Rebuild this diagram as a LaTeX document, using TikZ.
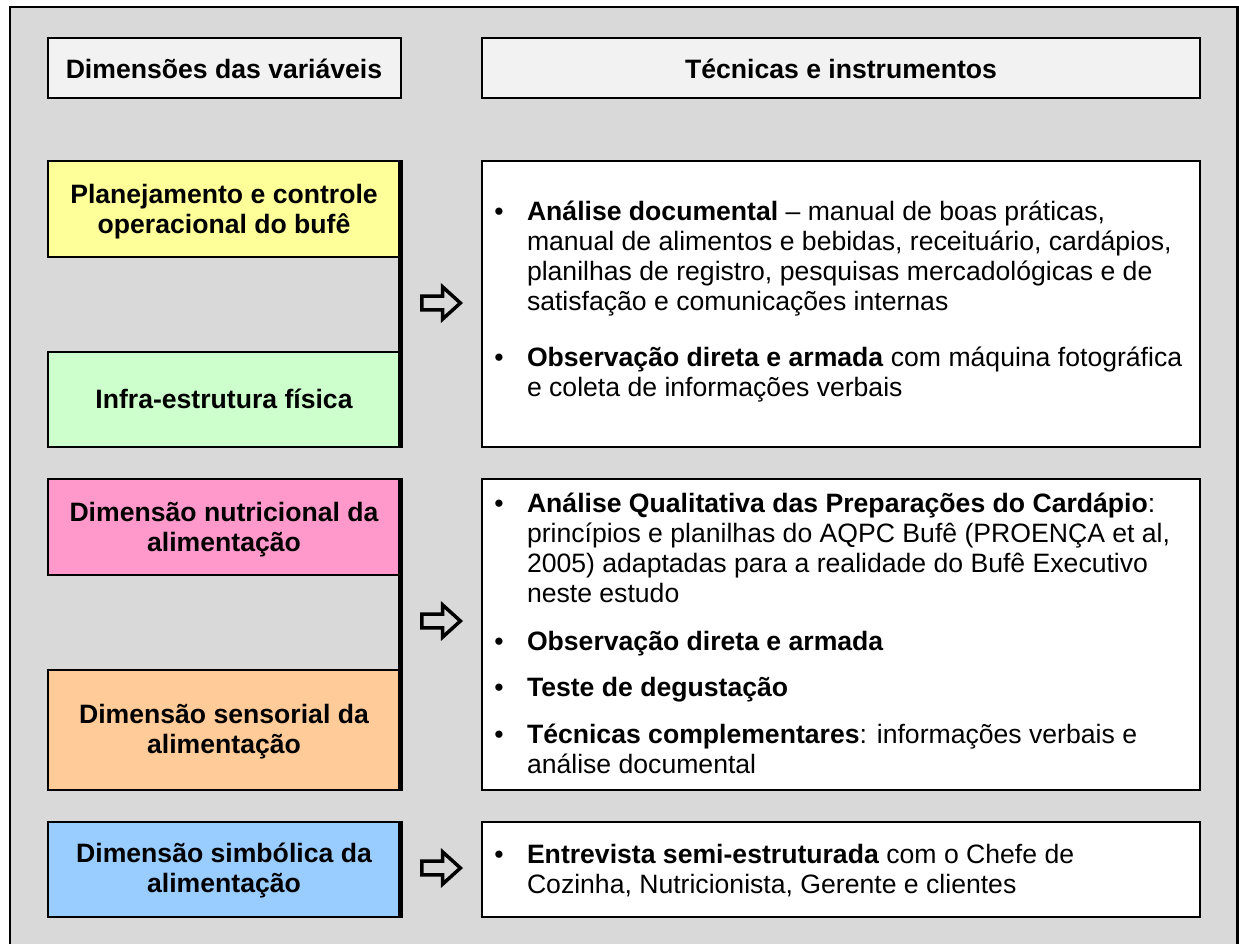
\documentclass[tikz,border=0pt]{standalone}
\usepackage{fontspec}
\setmainfont{Liberation Sans}
\definecolor{bggray}{HTML}{D9D9D9}
\definecolor{hdrgray}{HTML}{F2F2F2}
\definecolor{cyel}{HTML}{FFFF99}
\definecolor{cgreen}{HTML}{CCFFCC}
\definecolor{cpink}{HTML}{FF99CC}
\definecolor{corange}{HTML}{FFCC99}
\definecolor{cblue}{HTML}{99CCFF}
\begin{document}
\begin{tikzpicture}[x=1pt,y=-1pt,
  every node/.style={inner sep=0pt,outer sep=0pt},
  frame/.style={draw=black,line width=2.8pt,fill=bggray},
  hdrbox/.style={draw=black,line width=2pt,fill=hdrgray,anchor=north west,minimum height=60pt},
  lbox/.style={draw=black,line width=2pt,anchor=north west,minimum width=352pt},
  rbox/.style={draw=black,line width=2pt,fill=white,anchor=north west,minimum width=718pt},
  shadowline/.style={line width=4.5pt,black},
  hollow/.style={draw=black,line width=3.5pt,line join=miter},
  ctxt/.style={font=\fontsize{26.6}{30}\selectfont\bfseries,anchor=base},
  rtxt/.style={font=\fontsize{26.6}{30}\selectfont,anchor=base west},
  bul/.style={font=\fontsize{26.6}{30}\selectfont,anchor=base}
]
\useasboundingbox (0,0) rectangle (1239,943);
\draw[frame] (10,7) rectangle (1237.6,965);

% headers
\node[hdrbox,minimum width=353pt] (h1) at (48,38) {};
\node[hdrbox,minimum width=718pt] (h2) at (482,38) {};
\node[ctxt] (h1t) at (224,78) {Dimensões das variáveis};
\node[ctxt] (h2t) at (841,78) {Técnicas e instrumentos};

% left boxes
\node[lbox,fill=cyel,minimum height=96pt] (plan) at (48,161) {};
\node[lbox,fill=cgreen,minimum height=95pt] (infra) at (48,352) {};
\node[lbox,fill=cpink,minimum height=96pt] (nutri) at (48,479) {};
\node[lbox,fill=corange,minimum height=120pt] (sens) at (48,670) {};
\node[lbox,fill=cblue,minimum height=95pt] (simb) at (48,822) {};

\draw[shadowline] ([xshift=0.5pt,yshift=1pt]plan.north east) -- ([xshift=0.5pt,yshift=-1pt]infra.south east);
\draw[shadowline] ([xshift=0.5pt,yshift=1pt]nutri.north east) -- ([xshift=0.5pt,yshift=-1pt]sens.south east);
\draw[shadowline] ([xshift=0.5pt,yshift=1pt]simb.north east) -- ([xshift=0.5pt,yshift=-1pt]simb.south east);

\node[ctxt] (plan1) at (224,203) {Planejamento e controle};
\node[ctxt] (plan2) at (224,233) {operacional do bufê};
\node[ctxt] (infra1) at (224,408) {Infra-estrutura física};
\node[ctxt] (nutri1) at (224,521) {Dimensão nutricional da};
\node[ctxt] (nutri2) at (224,551) {alimentação};
\node[ctxt] (sens1) at (224,723) {Dimensão sensorial da};
\node[ctxt] (sens2) at (224,753) {alimentação};
\node[ctxt] (simb1) at (224,862) {Dimensão simbólica da};
\node[ctxt] (simb2) at (224,892) {alimentação};

% arrows
\draw[hollow,shift={(441,303)}] (-19.2,-6.8) -- (1.5,-6.8) -- (1.5,-16.2) -- (19.4,0) -- (1.5,16.2) -- (1.5,6.8) -- (-19.2,6.8) -- cycle;
\draw[hollow,shift={(441,621)}] (-19.2,-6.8) -- (1.5,-6.8) -- (1.5,-16.2) -- (19.4,0) -- (1.5,16.2) -- (1.5,6.8) -- (-19.2,6.8) -- cycle;
\draw[hollow,shift={(441,868)}] (-19.2,-6.8) -- (1.5,-6.8) -- (1.5,-16.2) -- (19.4,0) -- (1.5,16.2) -- (1.5,6.8) -- (-19.2,6.8) -- cycle;

% right boxes
\node[rbox,minimum height=286pt] (r1) at (482,161) {};
\node[rbox,minimum height=311pt] (r2) at (482,479) {};
\node[rbox,minimum height=95pt] (r3) at (482,822) {};

% box 1 text
\node[bul] (b11) at (499,220) {•};
\node[rtxt] (r1a) at (527,220) {\textbf{Análise documental} – manual de boas práticas,};
\node[rtxt] (r1b) at (527,250) {manual de alimentos e bebidas, receituário, cardápios,};
\node[rtxt] (r1c) at (527,280) {planilhas de registro, pesquisas mercadológicas e de};
\node[rtxt] (r1d) at (527,310) {satisfação e comunicações internas};
\node[bul] (b12) at (499,366) {•};
\node[rtxt] (r1e) at (527,366) {\textbf{Observação direta e armada} com máquina fotográfica};
\node[rtxt] (r1f) at (527,396) {e coleta de informações verbais};

% box 2 text
\node[bul] (b21) at (499,512) {•};
\node[rtxt] (r2a) at (527,512) {\textbf{Análise Qualitativa das Preparações do Cardápio}:};
\node[rtxt] (r2b) at (527,542) {princípios e planilhas do AQPC Bufê (PROENÇA et al,};
\node[rtxt] (r2c) at (527,572) {2005) adaptadas para a realidade do Bufê Executivo};
\node[rtxt] (r2d) at (527,602) {neste estudo};
\node[bul] (b22) at (499,650) {•};
\node[rtxt] (r2e) at (527,650) {\textbf{Observação direta e armada}};
\node[bul] (b23) at (499,696) {•};
\node[rtxt] (r2f) at (527,696) {\textbf{Teste de degustação}};
\node[bul] (b24) at (499,743) {•};
\node[rtxt] (r2g) at (527,743) {\textbf{Técnicas complementares}: informações verbais e};
\node[rtxt] (r2h) at (527,773) {análise documental};

% box 3 text
\node[bul] (b31) at (499,863) {•};
\node[rtxt] (r3a) at (527,863) {\textbf{Entrevista semi-estruturada} com o Chefe de};
\node[rtxt] (r3b) at (527,893) {Cozinha, Nutricionista, Gerente e clientes};
\end{tikzpicture}
\end{document}
